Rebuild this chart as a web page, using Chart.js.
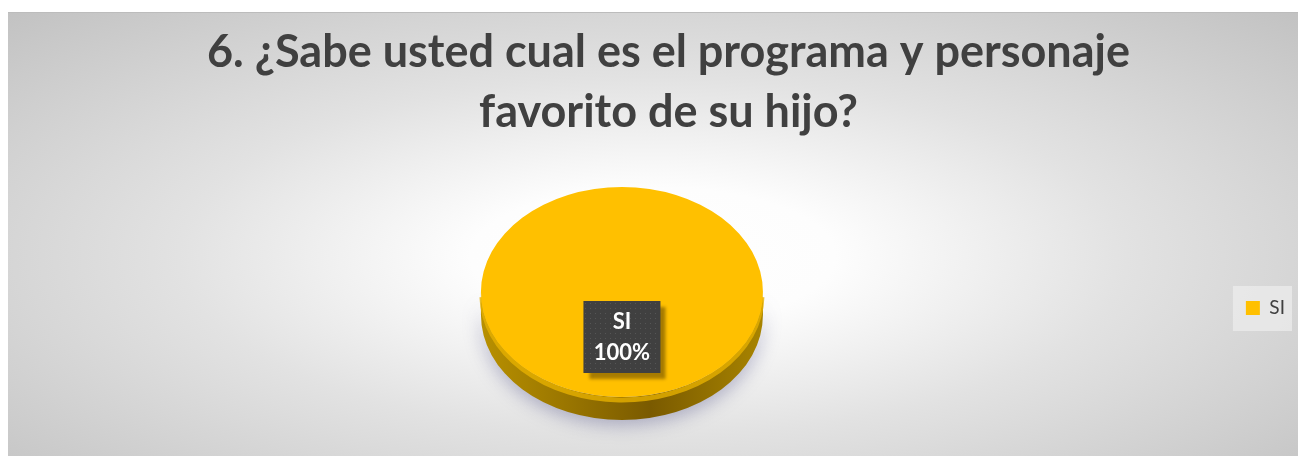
<!DOCTYPE html>
<html>
<head>
<meta charset="utf-8">
<script src="https://cdn.jsdelivr.net/npm/chart.js@4/dist/chart.umd.min.js"></script>
<style>
  html, body { margin: 0; padding: 0; background: #ffffff; width: 1298px; height: 456px; overflow: hidden; }
  #panel {
    position: absolute; left: 8px; top: 12px; width: 1290px; height: 444px; overflow: hidden;
    background: radial-gradient(ellipse farthest-corner at 50% 55%, #ffffff 0%, #fdfdfd 20%, #e2e2e2 52%, #c2c2c2 100%);
    box-shadow: inset 0 1px 0 #bcbcbc;
  }
  #wrap { position: absolute; left: 0; top: 0; width: 1302px; height: 444px; }
</style>
</head>
<body>
<div id="panel"><div id="wrap"><canvas id="c" width="1302" height="444"></canvas></div></div>
<script>
// ---- data ----
const categories = ['SI'];
const values = [100];
const percentLabels = ['100%'];
const titleLines = ['6. ¿Sabe usted cual es el programa y personaje', 'favorito de su hijo?'];
const sliceColors = ['#FFC000'];

// ---- look ----
const TILT = 0.745;      // vertical squash of the pie top
const DEPTH = 23;        // thickness of the 3D side
const LABEL_DY = 45;     // data label offset below pie centre

const pie3d = {
  id: 'pie3d',
  beforeDraw(chart) {
    const lg = chart.legend;
    if (!lg || !lg.legendHitBoxes || !lg.legendHitBoxes.length) return;
    const hb = lg.legendHitBoxes[0];
    const ctx = chart.ctx;
    ctx.save();
    ctx.fillStyle = 'rgba(236,236,236,0.75)';
    const cy = hb.top + hb.height / 2;
    ctx.fillRect(hb.left - 13, cy - 22, hb.width + 20, 45);
    ctx.restore();
  },
  beforeDatasetsDraw(chart) {
    const arc = chart.getDatasetMeta(0).data[0];
    const x = arc.x, y = arc.y, r = arc.outerRadius;
    const ry = r * TILT;
    const ctx = chart.ctx;
    // side wall with soft shadow
    ctx.save();
    ctx.shadowColor = 'rgba(90,90,140,0.45)';
    ctx.shadowBlur = 18;
    ctx.shadowOffsetY = 5;
    ctx.beginPath();
    ctx.moveTo(x + r, y);
    ctx.lineTo(x + r, y + DEPTH);
    ctx.ellipse(x, y + DEPTH, r, ry, 0, 0, Math.PI, false);
    ctx.lineTo(x - r, y);
    ctx.ellipse(x, y, r, ry, 0, Math.PI, 0, true);
    ctx.closePath();
    const g = ctx.createLinearGradient(x - r, 0, x + r, 0);
    g.addColorStop(0, '#b89000');
    g.addColorStop(0.3, '#9a7600');
    g.addColorStop(0.6, '#7a5a00');
    g.addColorStop(1, '#a88400');
    ctx.fillStyle = g;
    ctx.fill();
    ctx.restore();
    // light rim just under the top face
    ctx.save();
    ctx.beginPath();
    ctx.ellipse(x, y + 3, r - 1, ry, 0, 0.02, Math.PI - 0.02, false);
    ctx.strokeStyle = 'rgba(230,176,0,0.8)';
    ctx.lineWidth = 5;
    ctx.stroke();
    ctx.restore();
    // squash the top face
    ctx.save();
    ctx.translate(x, y);
    ctx.scale(1, TILT);
    ctx.translate(-x, -y);
  },
  afterDatasetsDraw(chart) {
    const ctx = chart.ctx;
    ctx.restore();
    const arc = chart.getDatasetMeta(0).data[0];
    const cx = arc.x, cy = arc.y + LABEL_DY;
    const w = 77, h = 72;
    ctx.save();
    ctx.shadowColor = 'rgba(60,40,0,0.45)';
    ctx.shadowBlur = 3;
    ctx.shadowOffsetX = 6;
    ctx.shadowOffsetY = 6;
    ctx.fillStyle = '#404040';
    ctx.fillRect(cx - w / 2, cy - h / 2, w, h);
    ctx.restore();
    ctx.save();
    ctx.fillStyle = '#565656';
    for (let px = cx - w / 2 + 2; px < cx + w / 2; px += 5) {
      for (let py = cy - h / 2 + 2; py < cy + h / 2; py += 5) {
        ctx.fillRect(Math.round(px), Math.round(py), 1, 1);
      }
    }
    ctx.fillStyle = '#ffffff';
    ctx.font = 'bold 22px Lato';
    ctx.textAlign = 'center';
    ctx.textBaseline = 'middle';
    ctx.fillText(categories[0], cx, cy - 15);
    ctx.fillText(percentLabels[0], cx, cy + 16);
    ctx.restore();
  }
};

new Chart(document.getElementById('c'), {
  type: 'pie',
  data: {
    labels: categories,
    datasets: [{
      data: values,
      backgroundColor: sliceColors,
      borderWidth: 0
    }]
  },
  options: {
    responsive: false,
    animation: false,
    events: [],
    layout: { padding: { left: 34, right: 15, top: 0, bottom: 23 } },
    plugins: {
      tooltip: { enabled: false },
      title: {
        display: true,
        text: titleLines,
        color: '#404040',
        font: { family: 'Lato', weight: 'bold', size: 45, lineHeight: 60 / 45 },
        padding: { top: 10, bottom: 9 }
      },
      legend: {
        display: true,
        position: 'right',
        fullSize: false,
        title: { display: true, text: ' ', font: { size: 16, lineHeight: 2 }, padding: 0 },
        labels: {
          boxWidth: 14,
          boxHeight: 14,
          padding: 44,
          color: '#404040',
          font: { family: 'Lato', size: 19 }
        }
      }
    }
  },
  plugins: [pie3d]
});
</script>
</body>
</html>
